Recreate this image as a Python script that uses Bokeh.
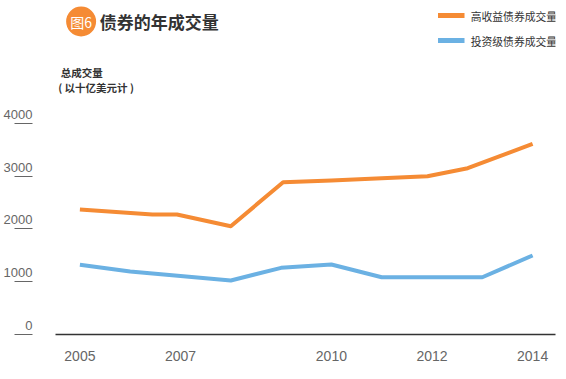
from bokeh.plotting import figure
from bokeh.layouts import column
from bokeh.models import Range1d, FixedTicker
from bokeh.core.properties import value
from bokeh.embed import file_html
from bokeh.resources import INLINE

# ---- data -------------------------------------------------------------
title_text = "债券的年成交量"
badge_text = "图6"
y_title_1 = "总成交量"
y_title_2 = "( 以十亿美元计 )"
series_names = ["高收益债券成交量", "投资级债券成交量"]

hy_years = [2005, 2006.44, 2006.93, 2008, 2009.04, 2010, 2011, 2011.91, 2012.71, 2014]
hy_volume = [2370, 2275, 2275, 2053, 2887, 2920, 2960, 3001, 3153, 3615]

ig_years = [2005, 2006, 2007, 2008, 2009, 2010, 2011, 2012, 2013, 2014]
ig_volume = [1321, 1194, 1109, 1024, 1264, 1327, 1086, 1086, 1086, 1498]

x_ticks = [2005, 2007, 2010, 2012, 2014]
y_ticks = [0, 1000, 2000, 3000, 4000]

# ---- style ------------------------------------------------------------
ORANGE = "#F58B34"
BLUE = "#6BB1E3"
SERIES_COLORS = [ORANGE, BLUE]
DARK = "#333333"
GREY = "#666666"
CJK = "Noto Sans CJK SC"
NUM = "Liberation Sans"
W = 566
HEAD_H = 100            # header strip (title, legend, axis title)
MAIN_H = 379 - HEAD_H   # chart
FL, FR, FB = 53, 555, 234   # chart frame edges (FB relative to chart top)

# ---- chart ------------------------------------------------------------
p = figure(width=W, height=MAIN_H, output_backend="svg", toolbar_location=None,
           title=None,
           x_range=Range1d(2004.515, 2014.455), y_range=Range1d(0, 4436),
           min_border_left=FL, min_border_right=W - FR, min_border_top=0,
           min_border_bottom=MAIN_H - FB)
p.grid.visible = False
p.outline_line_color = None
p.background_fill_color = "white"
p.border_fill_color = "white"

xa = p.xaxis[0]
xa.ticker = FixedTicker(ticks=x_ticks)
xa.axis_line_color = DARK
xa.axis_line_width = 1.5
xa.major_tick_line_color = None
xa.minor_tick_line_color = None
xa.major_label_text_font = NUM
xa.major_label_text_font_size = "14px"
xa.major_label_text_color = GREY
xa.major_label_standoff = 10

ya = p.yaxis[0]
ya.ticker = FixedTicker(ticks=y_ticks)
ya.axis_line_color = None
ya.minor_tick_line_color = None
ya.major_tick_line_color = GREY
ya.major_tick_line_width = 1
ya.major_tick_out = 41
ya.major_tick_in = -23
ya.major_label_overrides = {v: f"{v}\n " for v in y_ticks}
ya.major_label_standoff = -18
ya.major_label_text_font = NUM
ya.major_label_text_font_size = "13px"
ya.major_label_text_color = GREY

p.line(hy_years, hy_volume, line_color=ORANGE, line_width=4, line_join="round")
p.line(ig_years, ig_volume, line_color=BLUE, line_width=4, line_join="round")

# ---- header (page pixel coordinates) ----------------------------------
h = figure(width=W, height=HEAD_H, output_backend="svg", toolbar_location=None,
           title=None, x_axis_location=None, y_axis_location=None,
           x_range=Range1d(0, W), y_range=Range1d(HEAD_H, 0),
           min_border=0, min_border_left=0, min_border_right=0,
           min_border_top=0, min_border_bottom=0)
h.grid.visible = False
h.outline_line_color = None
h.background_fill_color = "white"
h.border_fill_color = "white"

h.scatter(x=[29], y=[21], size=30, marker="circle", fill_color=ORANGE, line_color=None)
h.text(x=[29], y=[21], text=[badge_text], text_align="center", text_baseline="middle",
       text_font=value(CJK), text_font_size=value("14px"), text_color="white")
h.text(x=[50], y=[21], text=[title_text], text_align="left", text_baseline="middle",
       text_font=value(CJK), text_font_size=value("17px"), text_font_style="bold",
       text_color=DARK)
h.text(x=[6, 3], y=[72, 87], text=[y_title_1, y_title_2], text_align="left",
       text_baseline="middle", text_font=value(CJK), text_font_size=value("10.5px"),
       text_font_style="bold", text_color=DARK)

# legend: key line + label for each series
legend_rows = [15, 40]
for name, color, ry in zip(series_names, SERIES_COLORS, legend_rows):
    h.segment(x0=[433], y0=[ry], x1=[463], y1=[ry], line_color=color, line_width=5)
    h.text(x=[470], y=[ry], text=[name], text_align="left", text_baseline="middle",
           text_font=value(CJK), text_font_size=value("10.8px"), text_color=DARK)

layout = column(h, p, spacing=0)
open("out.html", "w").write(file_html(layout, INLINE))
